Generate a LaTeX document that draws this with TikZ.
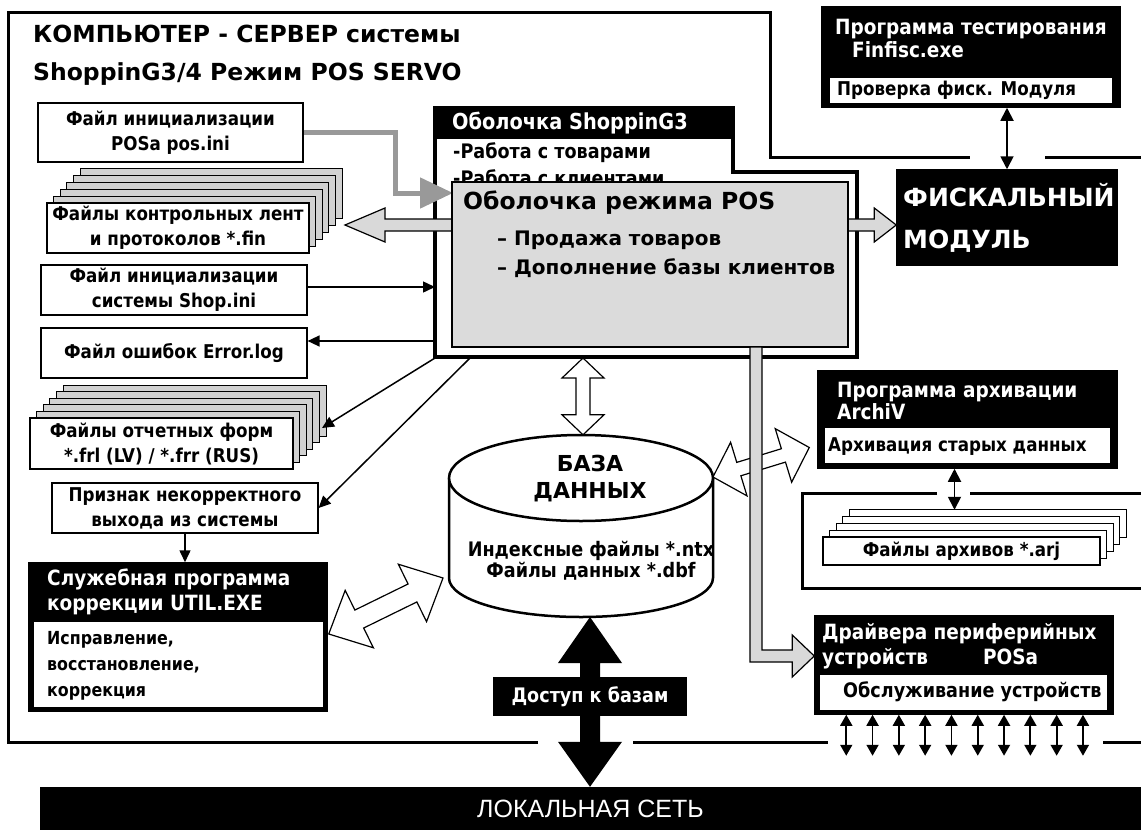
\documentclass[tikz,border=0pt]{standalone}
\usepackage{fontspec}
\setmainfont{DejaVu Sans}[FakeStretch=0.88]
\newfontfamily\widefont{DejaVu Sans}
\newfontfamily\netfont{Liberation Sans}
\usetikzlibrary{calc,arrows.meta}

% wide block arrow with two heads: style, from, to, shaft half, head half, head length at from, at to
\newcommand{\blockarrow}[7]{%
  \path[#1] (#2) -- ($(#2)!#6!(#3)!#5!90:(#3)$) -- ($(#2)!#6!(#3)!#4!90:(#3)$)
    -- ($(#3)!#7!(#2)!#4!-90:(#2)$) -- ($(#3)!#7!(#2)!#5!-90:(#2)$) -- (#3)
    -- ($(#3)!#7!(#2)!#5!90:(#2)$) -- ($(#3)!#7!(#2)!#4!90:(#2)$)
    -- ($(#2)!#6!(#3)!#4!-90:(#3)$) -- ($(#2)!#6!(#3)!#5!-90:(#3)$) -- cycle;}

\tikzset{
  frame/.style={line width=3pt},
  filebox/.style={draw, line width=1.2pt, fill=white, inner sep=0pt, align=center,
    font=\bfseries\fontsize{19}{25}\selectfont},
  layer/.style={draw, line width=0.9pt, fill=black!18},
  paperlayer/.style={draw, line width=0.9pt, fill=white},
  darkbox/.style={draw=black, line width=1.5pt, fill=black, inner sep=0pt},
  lightbox/.style={fill=white, inner sep=0pt},
  headtext/.style={anchor=west, inner sep=0pt, align=left, text=white,
    font=\bfseries\fontsize{21}{23}\selectfont},
  bodytext/.style={anchor=west, inner sep=0pt, align=left,
    font=\bfseries\fontsize{19}{26}\selectfont},
  link/.style={line width=1.5pt, -{Triangle[length=12pt,width=11pt]}},
  duplex/.style={line width=1.8pt, {Triangle[length=13pt,width=13pt]}-{Triangle[length=13pt,width=13pt]}},
  devlink/.style={line width=1.8pt, {Triangle[length=11pt,width=12pt]}-{Triangle[length=11pt,width=12pt]}},
  whitearrow/.style={draw, line width=1.2pt, fill=white},
  grayarrow/.style={draw, line width=1.2pt, fill=black!15},
  blackarrow/.style={fill=black},
}

\begin{document}
\begin{tikzpicture}[x=1pt, y=-1pt]
    \useasboundingbox (0,0) rectangle (1141,830);

    % Server frame
    \draw[frame] (538,742) -- (8,742) -- (8,12) -- (770,12) -- (770,157) -- (970,157);
    \draw[frame] (1045,157) -- (1141,157);
    \draw[frame] (633,742) -- (828,742);
    \draw[frame] (1103,742) -- (1141,742);

    % Archive frame
    \draw[frame] (937,493) -- (802,493) -- (802,588) -- (1141,588);
    \draw[frame] (970,493) -- (1141,493);

    % Title
    \node[anchor=base west, inner sep=0pt, font=\widefont\bfseries\fontsize{23.5}{28}\selectfont] (title) at (33,42) {КОМПЬЮТЕР - СЕРВЕР системы};
    \node[anchor=base west, inner sep=0pt, font=\widefont\bfseries\fontsize{23.5}{28}\selectfont] (subtitle) at (33,80) {ShoppinG3/4 Режим POS SERVO};

    % Files on the left
    \node[filebox, minimum width=265pt, minimum height=59pt] (posini) at (170.5,132.5) {Файл инициализации\\POSa pos.ini};

    \foreach \k in {5,4,...,1}
        \draw[layer] ($(47,203)+(6.6*\k,-7*\k)$) rectangle ++(262,50);
    \node[filebox, minimum width=262pt, minimum height=50pt] (finfiles) at (178,228) {Файлы контрольных лент\\и протоколов *.fin};

    \node[filebox, minimum width=266pt, minimum height=50pt] (shopini) at (174,290) {Файл инициализации\\системы Shop.ini};

    \node[filebox, minimum width=266pt, minimum height=50pt] (errlog) at (174,353) {Файл ошибок Error.log};

    \foreach \k in {5,4,...,1}
        \draw[layer] ($(30,418)+(6.6*\k,-6.6*\k)$) rectangle ++(263,51);
    \node[filebox, minimum width=263pt, minimum height=51pt] (frmfiles) at (161.5,443.5) {Файлы отчетных форм\\*.frl (LV) / *.frr (RUS)};

    \node[filebox, minimum width=266pt, minimum height=50pt] (badexit) at (185,508) {Признак некорректного\\выхода из системы};

    % Service program
    \node[darkbox, minimum width=298pt, minimum height=148pt] (util) at (178,637) {};
    \node[lightbox, minimum width=289pt, minimum height=85pt] (utilbody) at (178.5,664.5) {};
    \node[headtext, font=\bfseries\fontsize{21}{25}\selectfont] (utilhead) at (47,592) {Служебная программа\\коррекции UTIL.EXE};
    \node[bodytext, font=\bfseries\fontsize{18}{26}\selectfont] (utiltext) at (47,666) {Исправление,\\восстановление,\\коррекция};

    % ShoppinG3 shell
    \draw[line width=3.5pt, fill=white] (435,108) -- (733,108) -- (733,172) -- (857,172) -- (857,357) -- (435,357) -- cycle;
    \node[darkbox, minimum width=298pt, minimum height=30pt] (shell) at (584,123) {};
    \node[headtext, font=\bfseries\fontsize{22}{24}\selectfont] (shelltitle) at (452,123) {Оболочка ShoppinG3};
    \node[bodytext, font=\bfseries\fontsize{20}{24}\selectfont] (goods) at (453,153) {-Работа с товарами};
    \node[bodytext, font=\bfseries\fontsize{20}{24}\selectfont] (clients) at (453,178) {-Работа с клиентами};

    % Fiscal module and test program
    \node[darkbox, minimum width=220pt, minimum height=95pt] (fiscal) at (1007,217.5) {};
    \node[headtext, font=\widefont\bfseries\fontsize{25}{42}\selectfont] (fiscaltext) at (903,218) {ФИСКАЛЬНЫЙ\\МОДУЛЬ};

    \node[darkbox, minimum width=298pt, minimum height=100pt] (tester) at (971,57) {};
    \node[lightbox, minimum width=282pt, minimum height=25pt] (testerbody) at (971,90.5) {};
    \node[headtext] (testerhead) at (835,38) {Программа тестирования\\\hspace*{17pt}Finfisc.exe};
    \node[bodytext] (testertext) at (837,90) {Проверка фиск. Модуля};

    % Long link: control tapes - shell - fiscal module
    \coordinate (fintip) at (345,225);
    \coordinate (fiscin) at (fintip -| fiscal.west);
    \blockarrow{grayarrow}{fintip}{fiscin}{6pt}{17pt}{40pt}{22pt}

    % pos.ini into the POS shell
    \coordinate (posin) at (453,193);
    \draw[line width=5pt, black!40, -{Triangle[length=33pt,width=30pt]}] (posini.east) -| ($(posin)+(-58,0)$) -- (posin);

    % POS mode shell
    \node[draw, line width=1.2pt, fill=black!14, minimum width=396pt, minimum height=165pt] (pos) at (650,264.5) {};
    \node[bodytext, font=\widefont\bfseries\fontsize{23.5}{26}\selectfont] (postitle) at (463,203) {Оболочка режима POS};
    \node[bodytext, font=\widefont\bfseries\fontsize{20}{28}\selectfont] (sale) at (497,240) {– Продажа товаров};
    \node[bodytext, font=\widefont\bfseries\fontsize{20}{28}\selectfont] (addclients) at (497,268) {– Дополнение базы клиентов};

    % Archive program
    \node[darkbox, minimum width=299pt, minimum height=97pt] (archiver) at (967.5,419.5) {};
    \node[lightbox, minimum width=285pt, minimum height=35pt] (archbody) at (967.5,445.5) {};
    \node[headtext, font=\bfseries\fontsize{21}{22}\selectfont] (archhead) at (837,401) {Программа архивации\\ArchiV};
    \node[bodytext] (archtext) at (828,447) {Архивация старых данных};

    \foreach \k in {4,3,...,1}
        \draw[paperlayer] ($(823,537)+(6.5*\k,-7*\k)$) rectangle ++(277,28);
    \node[filebox, minimum width=277pt, minimum height=28pt] (arjfiles) at (961.5,551) {Файлы архивов *.arj};

    % Device drivers
    \node[darkbox, minimum width=298pt, minimum height=98pt] (drivers) at (964,665) {};
    \node[lightbox, minimum width=287pt, minimum height=35pt] (drvbody) at (963.5,692.5) {};
    \node[headtext, font=\bfseries\fontsize{21}{25}\selectfont] (drvhead) at (822,646) {Драйвера периферийных\\устройств\hspace{55pt}POSa};
    \node[bodytext, font=\bfseries\fontsize{20}{26}\selectfont] (drvtext) at (843,692) {Обслуживание устройств};

    % Database
    \node[minimum width=264pt, minimum height=182pt, inner sep=0pt] (dbase) at (581,526) {};
    \draw[line width=2.5pt, fill=white] (449,478) -- (449,578) arc[start angle=180, end angle=0, x radius=132, y radius=39] -- (713,478);
    \draw[line width=2.5pt, fill=white] (581,478) ellipse [x radius=132, y radius=43];
    \node[align=center, inner sep=0pt, font=\widefont\bfseries\fontsize{22}{27}\selectfont] (dbname) at (590,479) {БАЗА\\ДАННЫХ};
    \node[align=center, inner sep=0pt, font=\bfseries\fontsize{20}{21}\selectfont] (dbfiles) at (591,561) {Индексные файлы *.ntx\\Файлы данных *.dbf};

    % Block arrows to the database
    \coordinate (shellbot) at (583,358);
    \coordinate (dbtop) at (shellbot |- dbase.north);
    \blockarrow{whitearrow}{shellbot}{dbtop}{7pt}{21pt}{20pt}{20pt}

    \coordinate (dbright) at (713,477);
    \coordinate (archin) at ($(archiver.west)+(-8,28)$);
    \blockarrow{whitearrow}{dbright}{archin}{7pt}{28pt}{27pt}{27pt}

    \coordinate (utilout) at ($(util.east)+(1,-3)$);
    \coordinate (dbleft) at (443,578);
    \blockarrow{whitearrow}{utilout}{dbleft}{10pt}{32pt}{34pt}{34pt}

    % POS shell to device drivers
    \coordinate (posout) at (756,347);
    \coordinate (drvin) at ($(drivers.west)+(0,-9)$);
    \path[grayarrow] ($(posout)+(-6,0)$) |- ($(drvin)+(-22,6)$) -- ++(0,15) -- (drvin) -- ++(-22,-21) -- ++(0,15) -| ($(posout)+(6,0)$) -- cycle;

    % Local network
    \node[fill=black, minimum width=1101pt, minimum height=43pt, text=white, font=\netfont\fontsize{25}{25}\selectfont] (lan) at (590.5,808.5) {ЛОКАЛЬНАЯ СЕТЬ};
    \coordinate (netup) at (590,617);
    \coordinate (netdown) at (netup |- lan.north);
    \blockarrow{blackarrow}{netup}{netdown}{10pt}{32pt}{46pt}{45pt}
    \node[darkbox, minimum width=192pt, minimum height=37pt, text=white, font=\bfseries\fontsize{20}{20}\selectfont] (dbaccess) at (590,696.5) {Доступ к базам};

    % Connections
    \coordinate (shellwest) at (435,287);
    \draw[link] (shopini.east |- shellwest) -- (shellwest);
    \coordinate (errport) at (435,341);
    \draw[link] (errport) -- (errport -| errlog.east);
    \coordinate (shellsw) at (435,358);
    \coordinate (frmport) at (322,428);
    \draw[link] (shellsw) -- (frmport);
    \coordinate (shellexit) at (470,358);
    \draw[link] (shellexit) -- (badexit.east);
    \draw[link] (badexit.south) -- (badexit.south |- util.north);
    \draw[duplex] (tester.south -| fiscal.north) -- (fiscal.north);
    \draw[duplex] ($(archiver.south)+(-13,0)$) -- ++(0,41);
    \foreach \i in {0,...,9}
        \draw[devlink] ($(drivers.south west)+(32+26.3*\i,0)$) -- ++(0,41);
\end{tikzpicture}
\end{document}
